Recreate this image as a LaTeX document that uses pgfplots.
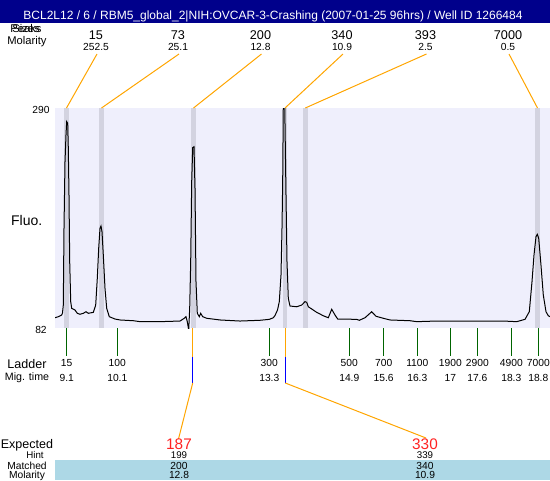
\documentclass[border=0pt]{standalone}
\usepackage{fontspec}
\setmainfont{Liberation Sans}
\usepackage{pgfplots}
\pgfplotsset{compat=1.18}
\definecolor{titlebar}{RGB}{0,0,139}
\definecolor{plotbg}{RGB}{239,239,252}
\definecolor{band}{RGB}{211,211,224}
\definecolor{lineorange}{RGB}{255,165,0}
\definecolor{ladgreen}{RGB}{0,100,0}
\definecolor{expred}{RGB}{255,35,35}
\definecolor{matchblue}{RGB}{173,216,230}
\newcommand{\fs}[1]{\fontsize{#1}{#1}\selectfont}

\begin{document}
\begin{tikzpicture}
\useasboundingbox (0pt,0pt) rectangle (412.5pt,-360pt);
% fluorescence trace, x in pixel positions of the migration axis
\begin{axis}[
  at={(41.25pt,-81pt)}, anchor=north west,
  scale only axis, width=371.25pt, height=165pt,
  xmin=55, xmax=550, ymin=82, ymax=290,
  axis line style={draw=none}, xtick=\empty, ytick=\empty,
  axis background/.style={fill=plotbg},
  clip=true,
]
  % peak bands
  \addplot[fill=band, draw=none] coordinates {(64,82) (64,290) (69,290) (69,82)};
  \addplot[fill=band, draw=none] coordinates {(99,82) (99,290) (104,290) (104,82)};
  \addplot[fill=band, draw=none] coordinates {(191,82) (191,290) (196,290) (196,82)};
  \addplot[fill=band, draw=none] coordinates {(282.7,82) (282.7,290) (287.3,290) (287.3,82)};
  \addplot[fill=band, draw=none] coordinates {(302.7,82) (302.7,290) (308,290) (308,82)};
  \addplot[fill=band, draw=none] coordinates {(535,82) (535,290) (540,290) (540,82)};
  % trace
  \addplot[black, line width=0.75pt, sharp plot] coordinates {
    (55,91.7) (58.3,92.7) (61.7,94.3) (62.5,96.2) (63.3,103.7) (64,176.3)
    (65,239.2) (66,264.5) (66.7,277.1) (67.7,275.5) (68.3,251.9) (69,207.7)
    (69.7,144.7) (70.7,106.9) (71.7,100.6) (75,99.0) (77.3,95.9) (80,95.0)
    (83.3,95.9) (86,97.4) (88.3,95.9) (93.3,96.8) (95.7,103.7) (97.3,129.0)
    (98.7,157.4) (100,176.3) (101,178.4) (102,173.0) (103.3,151.0) (105,119.5)
    (106.7,100.6) (109.3,92.7) (115,90.5) (120,89.6) (133.3,88.9) (140,88.0)
    (160,88.0) (180,88.6) (184.3,91.2) (186,92.7) (187.3,88.0) (188.7,80.0)
    (189.7,100.6) (190.7,144.7) (191.7,220.3) (192.7,252.5) (194,253.4)
    (195,214.1) (196,125.8) (197.3,95.9) (199.3,92.7) (200.7,95.9) (202.7,92.7)
    (206.7,91.2) (220,89.6) (240,88.6) (260,89.3) (269.3,90.2) (273.3,91.7)
    (275,93.8) (277.5,99.0) (279.3,106.9) (281,132.1) (282,176.3) (282.7,220.3)
    (283.3,295) (284.7,295) (285.3,255.0) (286,207.7) (287,144.7) (288.3,110.1)
    (290,102.8) (296.7,102.1) (301.7,103.7) (305,106.9) (306.7,106.3)
    (308.3,102.1) (311.7,100.0) (316.7,96.8) (323.3,93.6) (328.3,91.7)
    (331.7,99.7) (335,94.3) (337.7,90.5) (356.7,90.2) (359.3,89.3) (365,91.7)
    (371.7,97.4) (376,93.1) (383.3,91.2) (390,89.6) (410,88.9) (416.7,88.0)
    (436.7,88.6) (450,88.6) (470,88.6) (503.3,88.6) (516.7,88.0) (525,90.2)
    (529.3,97.4) (532,125.8) (534,151.0) (536,168.3) (537.3,170.6)
    (538.7,166.8) (540.7,144.7) (543.3,113.2) (546,97.4) (548.3,93.6) (550,92.7)
  };
\end{axis}

\begin{scope}[x=0.75pt, y=-0.75pt]
  % title bar
  \fill[titlebar] (0,0) rectangle (550,23);
  \node[white, anchor=base, font=\fs{9}] at (273,19.3)
    {BCL2L12 / 6 / RBM5\_global\_2|NIH:OVCAR-3-Crashing (2007-01-25 96hrs) / Well ID 1266484};

  % top labels
  \node[anchor=base, font=\fs{8.4}] at (26,32.7) {Peaks};
  \node[anchor=base, font=\fs{8.4}] at (26,32.7) {Sizes};
  \node[anchor=base, font=\fs{8.4}] at (27,44) {Molarity};
  \foreach \x/\s/\m/\b in {96/15/252.5/66.5, 178/73/25.1/101.5, 260.5/200/12.8/193.5,
                          342/340/10.9/285, 425.5/393/2.5/305.3, 508/7000/0.5/537.5} {
    \node[anchor=base, font=\fs{9.5}] at (\x,39) {\s};
    \node[anchor=base, font=\fs{7.7}] at (\x,50.7) {\m};
    \draw[lineorange, line width=0.75pt] (\x+1,54) -- (\b,108);
  }

  % y labels
  \node[anchor=base, font=\fs{7.7}] at (41,113.3) {290};
  \node[anchor=base, font=\fs{7.7}] at (41,333.3) {82};
  \node[anchor=base, font=\fs{10.5}] at (26.7,225.7) {Fluo.};

  % ladder
  \node[anchor=base, font=\fs{9.4}] at (27,368.3) {Ladder};
  \node[anchor=base, font=\fs{8}] at (27,380.7) {Mig. time};
  \foreach \x/\s/\t in {66.7/15/9.1, 117.3/100/10.1, 269.3/300/13.3, 349.3/500/14.9,
                        383.7/700/15.6, 417.3/1100/16.3, 450.3/1900/17, 477.3/2900/17.6,
                        511.3/4900/18.3, 538.3/7000/18.8} {
    \draw[ladgreen, line width=0.75pt] (\x,328) -- (\x,356);
    \node[anchor=base, font=\fs{7.7}] at (\x,366.7) {\s};
    \node[anchor=base, font=\fs{7.7}] at (\x,381) {\t};
  }

  % expected peaks
  \draw[lineorange, line width=0.75pt] (192.7,328) -- (192.7,357);
  \draw[blue, line width=0.75pt] (192.7,357) -- (192.7,383);
  \draw[lineorange, line width=0.75pt] (192.7,383) -- (178.5,439);
  \draw[lineorange, line width=0.75pt] (285.3,328) -- (285.3,357);
  \draw[blue, line width=0.75pt] (285.3,357) -- (285.3,383);
  \draw[lineorange, line width=0.75pt] (285.3,383) -- (426,438);

  % bottom table
  \fill[matchblue] (55,460) rectangle (550,480);
  \node[anchor=base, font=\fs{9.4}] at (27,448.3) {Expected};
  \node[anchor=base, font=\fs{7.3}] at (35,458.3) {Hint};
  \node[anchor=base, font=\fs{7.7}] at (27,469) {Matched};
  \node[anchor=base, font=\fs{7.7}] at (27,478.3) {Molarity};
  \foreach \x/\e/\h/\mt/\mo in {179/187/199/200/12.8, 425/330/339/340/10.9} {
    \node[anchor=base, font=\fs{11.5}, text=expred] at (\x,449.3) {\e};
    \node[anchor=base, font=\fs{7.3}] at (\x,458.3) {\h};
    \node[anchor=base, font=\fs{7.7}] at (\x,469) {\mt};
    \node[anchor=base, font=\fs{7.7}] at (\x,478.3) {\mo};
  }
\end{scope}
\end{tikzpicture}
\end{document}
